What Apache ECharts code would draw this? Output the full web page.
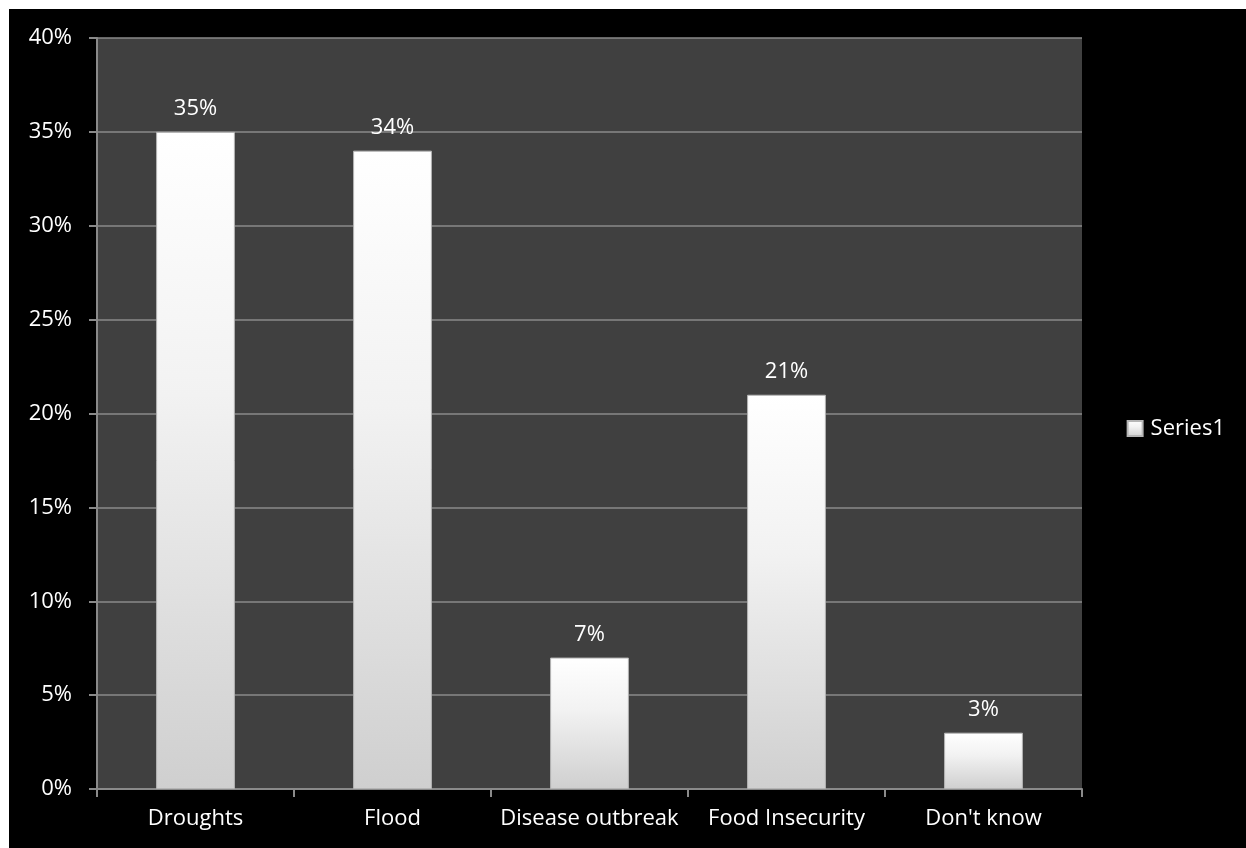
<!DOCTYPE html>
<html>
<head>
<meta charset="utf-8">
<script src="https://cdn.jsdelivr.net/npm/echarts@6/dist/echarts.min.js"></script>
<style>
html,body{margin:0;padding:0;background:#fff;}
#chart{position:absolute;left:9px;top:9px;width:1237px;height:839px;background:#000;}
</style>
</head>
<body>
<div id="chart"></div>
<script>
const categories = ["Droughts", "Flood", "Disease outbreak", "Food Insecurity", "Don't know"];
const values = [35, 34, 7, 21, 3];
const yTicks = [0, 5, 10, 15, 20, 25, 30, 35, 40];
const seriesName = "Series1";

const chart = echarts.init(document.getElementById('chart'));
const font = '"Open Sans", Lato, sans-serif';
const fs = 22;
chart.setOption({
  backgroundColor: '#000',
  animation: false,
  textStyle: { fontFamily: font },
  grid: {
    left: 88, top: 29, right: 164, bottom: 59,
    show: true, backgroundColor: '#404040', borderWidth: 0,
    containLabel: false
  },
  legend: {
    data: [seriesName],
    right: 16, top: 'middle',
    orient: 'vertical',
    icon: 'rect', itemWidth: 15, itemHeight: 15, itemGap: 6,
    textStyle: { color: '#fff', fontSize: fs, fontFamily: font, padding: [0, 0, 0, 3] }
  },
  xAxis: {
    type: 'category',
    data: categories,
    axisLine: { show: true, lineStyle: { color: '#8a8a8a', width: 2 } },
    axisTick: { show: true, alignWithLabel: false, length: 8, lineStyle: { color: '#8a8a8a', width: 2 } },
    axisLabel: { color: '#fff', fontSize: fs, margin: 19, fontFamily: font, interval: 0 },
    splitLine: { show: false }
  },
  yAxis: {
    type: 'value',
    min: yTicks[0], max: yTicks[yTicks.length - 1], interval: 5,
    axisLine: { show: true, lineStyle: { color: '#8a8a8a', width: 2 } },
    axisTick: { show: true, length: 8, lineStyle: { color: '#8a8a8a', width: 2 } },
    axisLabel: { color: '#fff', fontSize: fs, margin: 25, fontFamily: font, formatter: v => v + '%' },
    splitLine: { show: true, lineStyle: { color: '#8a8a8a', width: 1.5 } }
  },
  series: [{
    name: seriesName,
    type: 'bar',
    data: values,
    barWidth: '40%',
    itemStyle: {
      color: new echarts.graphic.LinearGradient(0, 0, 0, 1, [
        { offset: 0, color: '#ffffff' },
        { offset: 0.4, color: '#f2f2f2' },
        { offset: 1, color: '#cfcfcf' }
      ]),
      borderColor: '#b5b5b5',
      borderWidth: 1
    },
    label: {
      show: true, position: 'top', distance: 12,
      color: '#fff', fontSize: fs, fontFamily: font,
      formatter: p => p.value + '%'
    }
  }]
});
</script>
</body>
</html>
